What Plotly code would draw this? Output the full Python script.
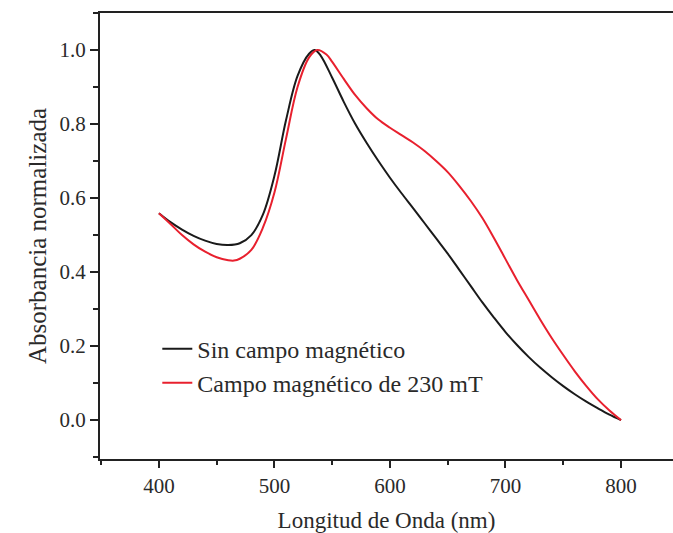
import plotly.graph_objects as go

# Wavelength (nm) and normalized absorbance
wl_sin = [400, 410, 420, 430, 440, 450, 460, 470, 480, 490, 500, 510, 520, 530, 535,
          540, 550, 560, 570, 580, 590, 600, 610, 620, 630, 640, 650, 660, 670, 680,
          690, 700, 710, 720, 730, 740, 750, 760, 770, 780, 790, 800]
abs_sin = [0.559, 0.535, 0.515, 0.498, 0.485, 0.476, 0.473, 0.478, 0.500, 0.555, 0.660,
           0.810, 0.930, 0.990, 1.000, 0.985, 0.925, 0.860, 0.800, 0.748, 0.700, 0.655,
           0.613, 0.573, 0.532, 0.491, 0.450, 0.406, 0.362, 0.318, 0.277, 0.238, 0.203,
           0.171, 0.142, 0.116, 0.092, 0.070, 0.050, 0.032, 0.015, 0.000]

wl_campo = [400, 410, 420, 430, 440, 450, 460, 465, 470, 480, 490, 500, 510, 520, 530,
            537, 545, 550, 560, 570, 580, 590, 600, 610, 620, 630, 640, 650, 660, 670,
            680, 690, 700, 710, 720, 730, 740, 750, 760, 770, 780, 790, 800]
abs_campo = [0.559, 0.530, 0.500, 0.475, 0.455, 0.440, 0.432, 0.431, 0.436, 0.460, 0.520,
             0.615, 0.760, 0.900, 0.980, 1.000, 0.988, 0.968, 0.922, 0.878, 0.842, 0.812,
             0.790, 0.770, 0.750, 0.727, 0.700, 0.670, 0.633, 0.592, 0.546, 0.492, 0.435,
             0.378, 0.325, 0.272, 0.222, 0.176, 0.132, 0.092, 0.056, 0.026, 0.000]

names = ["Sin campo magnético", "Campo magnético de 230 mT"]
x_ticks = [400, 500, 600, 700, 800]
y_ticks = [0.0, 0.2, 0.4, 0.6, 0.8, 1.0]

FONT = "'Liberation Serif', 'Times New Roman', Times, serif"
TXT = "#2a2a2a"

fig = go.Figure()
fig.add_trace(go.Scatter(x=wl_sin, y=abs_sin, mode="lines", name=names[0],
                         line=dict(color="#1a1a1a", width=2, shape="spline", smoothing=1.0)))
fig.add_trace(go.Scatter(x=wl_campo, y=abs_campo, mode="lines", name=names[1],
                         line=dict(color="#e8202e", width=2, shape="spline", smoothing=1.0)))

fig.update_layout(
    width=673, height=533,
    margin=dict(l=100, r=0, t=13, b=74),
    paper_bgcolor="white", plot_bgcolor="white",
    font=dict(family=FONT, size=21, color=TXT),
    showlegend=True,
    legend=dict(x=0.1, y=0.297, xanchor="left", yanchor="top",
                bgcolor="rgba(0,0,0,0)", font=dict(family=FONT, size=24, color=TXT),
                itemwidth=30, tracegroupgap=0),
    xaxis=dict(range=[349, 845], tickmode="array", tickvals=x_ticks,
               ticktext=[str(v) for v in x_ticks],
               showgrid=False, zeroline=False, showline=True, linecolor="#222",
               linewidth=2, mirror=True, ticks="outside", ticklen=7, tickwidth=1.5,
               tickcolor="#222",
               minor=dict(dtick=50, ticks="outside", ticklen=4, tickwidth=1.5, tickcolor="#222"),
               title=dict(text="Longitud de Onda (nm)", font=dict(size=23), standoff=16)),
    yaxis=dict(range=[-0.105, 1.1], tickmode="array", tickvals=y_ticks,
               ticktext=[f"{v:.1f}" for v in y_ticks],
               showgrid=False, zeroline=False, showline=True, linecolor="#222",
               linewidth=2, mirror=False, ticks="outside", ticklen=8, tickwidth=1.5,
               tickcolor="#222",
               minor=dict(dtick=0.1, tick0=0, ticks="outside", ticklen=5, tickwidth=1.5,
                          tickcolor="#222"),
               title=dict(text="Absorbancia normalizada", font=dict(size=25), standoff=6)),
)

fig.write_html("out.html")
